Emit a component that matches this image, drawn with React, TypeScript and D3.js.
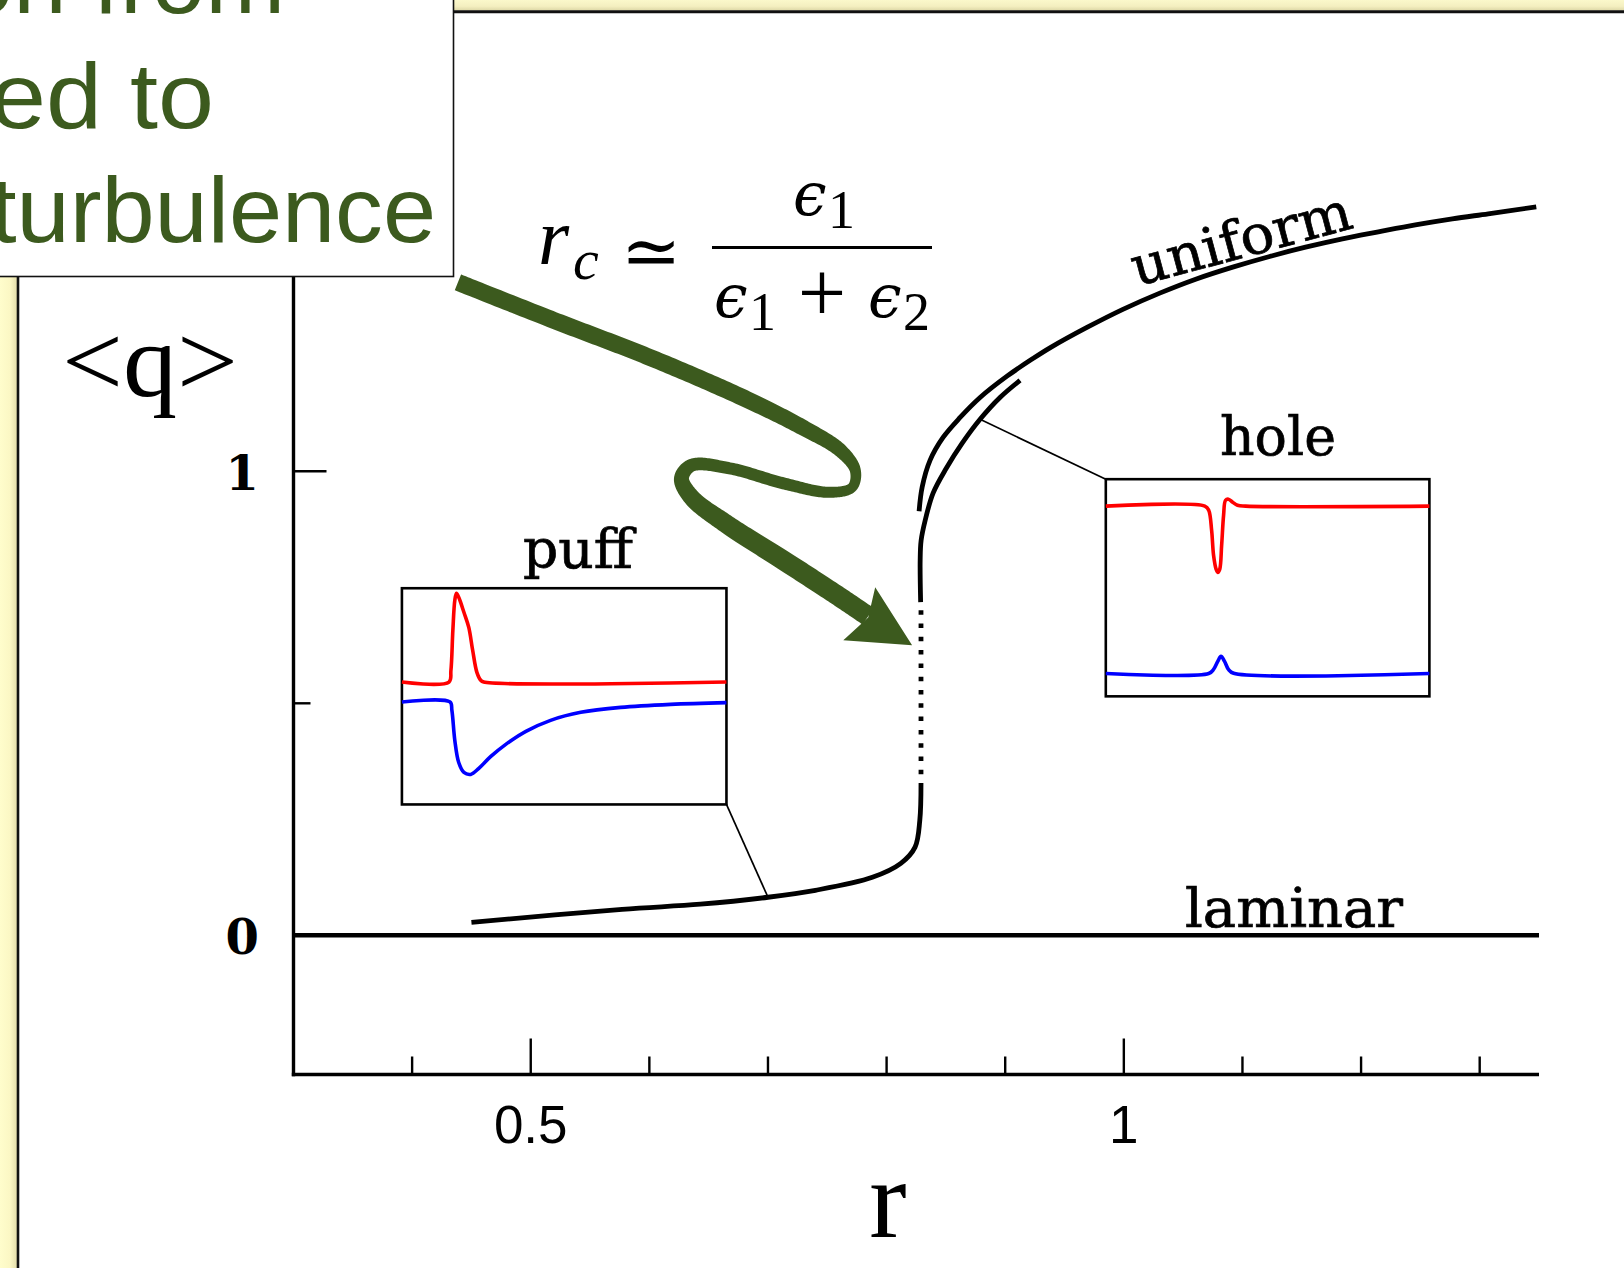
import React from 'react';
import * as d3 from 'd3';

const WIDTH = 1624;
const HEIGHT = 1268;

// ---- axes ----
const rDomain = [0.3, 1.35];
const qDomain = [-0.3, 1.75];
const rMajorTicks = [0.5, 1];
const rMinorTicks = [0.4, 0.6, 0.7, 0.8, 0.9, 1.1, 1.2, 1.3];
const rTickLabels = ['0.5', '1'];
const qMajorTicks = [1];
const qMinorTicks = [0.5];
const qTickLabels = [0, 1];

// ---- bifurcation diagram: mean turbulent fraction <q> against r ----
const uniformR = [0.8274, 0.830, 0.8367, 0.8476, 0.862, 0.8788, 0.9015, 0.9234, 0.9377, 0.9689, 0.9992, 1.0303, 1.0606, 1.0918, 1.1229, 1.1532, 1.1843, 1.2146, 1.2458, 1.2769, 1.3072, 1.3477];
const uniformQ = [0.914, 0.966, 1.024, 1.073, 1.116, 1.159, 1.205, 1.243, 1.266, 1.310, 1.349, 1.384, 1.414, 1.440, 1.463, 1.483, 1.501, 1.516, 1.531, 1.544, 1.555, 1.570];

const puffR = [0.450, 0.577, 0.643, 0.700, 0.740, 0.788, 0.812, 0.824, 0.828, 0.829];
const puffQ = [0.028, 0.056, 0.067, 0.082, 0.097, 0.125, 0.155, 0.190, 0.248, 0.328];

const unstableR = [0.829, 0.829];
const unstableQ = [0.328, 0.718];

const holeR = [0.8287, 0.8283, 0.8291, 0.8325, 0.8392, 0.8502, 0.8636, 0.8788, 0.8956, 0.9125];
const holeQ = [0.718, 0.808, 0.851, 0.894, 0.953, 1.006, 1.060, 1.112, 1.159, 1.196];

const laminarR = [0.3, 1.35];
const laminarQ = [0, 0];

// ---- inset profiles: position along the pipe (0–100), amplitude (0–1 of panel) ----
const puffRedX = [0, 14.5, 15.1, 15.7, 16.3, 16.8, 17.5, 19.1, 20.6, 21.8, 23.1, 24.3, 25.2, 100];
const puffRedY = [0.566, 0.566, 0.620, 0.806, 0.944, 0.977, 0.958, 0.889, 0.819, 0.713, 0.611, 0.574, 0.566, 0.566];
const puffBlueX = [0, 14.8, 15.4, 16.3, 17.5, 19.1, 21.2, 23.7, 27.4, 32.0, 38.2, 45.8, 55.1, 67.4, 82.8, 100];
const puffBlueY = [0.474, 0.474, 0.435, 0.296, 0.194, 0.148, 0.139, 0.167, 0.222, 0.278, 0.338, 0.389, 0.426, 0.449, 0.463, 0.471];

const holeRedX = [0, 30.6, 31.8, 32.7, 33.3, 34.1, 34.6, 35.2, 35.8, 36.4, 37.0, 37.9, 39.2, 40.7, 43.2, 100];
const holeRedY = [0.876, 0.876, 0.857, 0.765, 0.650, 0.585, 0.571, 0.585, 0.696, 0.834, 0.903, 0.908, 0.894, 0.880, 0.876, 0.876];
const holeBlueX = [0, 31.8, 33.3, 34.6, 35.6, 36.7, 37.9, 39.5, 100];
const holeBlueY = [0.105, 0.105, 0.124, 0.161, 0.184, 0.161, 0.124, 0.106, 0.105];

// ---- curly pointer towards r_c (in r, <q> units) ----
const arrowR = [0.4386, 0.5194, 0.6002, 0.6801, 0.7290, 0.7609, 0.7736, 0.7710, 0.7517, 0.7130, 0.6675, 0.6355, 0.6271, 0.6355, 0.6641, 0.7130, 0.7609, 0.7845];
const arrowQ = [1.4073, 1.3254, 1.2457, 1.1573, 1.0948, 1.0453, 1.0022, 0.9655, 0.9547, 0.9741, 1.0065, 1.0129, 0.9849, 0.9440, 0.8879, 0.8082, 0.7284, 0.6875];
const arrowHeadR = [0.8215, 0.7904, 0.7845, 0.7635];
const arrowHeadQ = [0.625, 0.750, 0.685, 0.636];

// ---- callout text ----
const calloutLines = ['on from', 'ed to', 'turbulence'];

// layout of the inset panels, in (r, <q>) units
const puffPanel = { r0: 0.3914, r1: 0.665, q0: 0.282, q1: 0.748 };
const holePanel = { r0: 0.9848, r1: 1.2576, q0: 0.515, q1: 0.983 };
const puffLeaderIndex = 3;
const holeLeaderIndex = 7;

const GREEN = '#3c5a1e';
const SERIF = "'DejaVu Serif', serif";
const TIMES = "'Liberation Serif', 'DejaVu Serif', serif";
const SANS = "'Liberation Sans', Arial, sans-serif";

const zip = (a: number[], b: number[]): [number, number][] => a.map((v, i) => [v, b[i]]);

// Build a filled ribbon of varying width around a Catmull-Rom centreline.
function ribbonPath(points: [number, number][], widths: number[]): string {
  const s: { x: number; y: number; w: number }[] = [];
  let seg = 0;
  const ctx: any = {
    moveTo(px: number, py: number) { s.push({ x: px, y: py, w: widths[0] }); },
    lineTo(px: number, py: number) { seg++; s.push({ x: px, y: py, w: widths[Math.min(seg, widths.length - 1)] }); },
    bezierCurveTo(x1: number, y1: number, x2: number, y2: number, px: number, py: number) {
      const p0 = s[s.length - 1];
      const w0 = widths[seg], w1 = widths[Math.min(seg + 1, widths.length - 1)];
      const n = 30;
      for (let i = 1; i <= n; i++) {
        const t = i / n, m = 1 - t;
        s.push({
          x: m * m * m * p0.x + 3 * m * m * t * x1 + 3 * m * t * t * x2 + t * t * t * px,
          y: m * m * m * p0.y + 3 * m * m * t * y1 + 3 * m * t * t * y2 + t * t * t * py,
          w: w0 + (w1 - w0) * t,
        });
      }
      seg++;
    },
    closePath() {},
  };
  d3.line().curve(d3.curveCatmullRom.alpha(0.5)).context(ctx)(points);
  const left: string[] = [];
  const right: string[] = [];
  for (let i = 0; i < s.length; i++) {
    const a = s[Math.max(0, i - 1)], b = s[Math.min(s.length - 1, i + 1)];
    let tx = b.x - a.x, ty = b.y - a.y;
    const len = Math.hypot(tx, ty) || 1;
    tx /= len; ty /= len;
    const nx = -ty, ny = tx, h = s[i].w / 2;
    left.push(`${(s[i].x + nx * h).toFixed(2)},${(s[i].y + ny * h).toFixed(2)}`);
    right.push(`${(s[i].x - nx * h).toFixed(2)},${(s[i].y - ny * h).toFixed(2)}`);
  }
  return `M${left.join('L')}L${right.reverse().join('L')}Z`;
}

export default function App() {
  const x = d3.scaleLinear().domain(rDomain).range([293.5, 1539]);
  const y = d3.scaleLinear().domain(qDomain).range([1074.5, 123.3]);

  const curve = d3
    .line<[number, number]>()
    .x((d) => x(d[0]))
    .y((d) => y(d[1]))
    .curve(d3.curveCatmullRom.alpha(0.5));

  const inset = (p: typeof puffPanel) => {
    const ix = d3.scaleLinear().domain([0, 100]).range([x(p.r0), x(p.r1)]);
    const iy = d3.scaleLinear().domain([0, 1]).range([y(p.q0), y(p.q1)]);
    const l = d3
      .line<[number, number]>()
      .x((d) => ix(d[0]))
      .y((d) => iy(d[1]))
      .curve(d3.curveCatmullRom.alpha(0.5));
    return { ix, iy, l };
  };
  const puffIn = inset(puffPanel);
  const holeIn = inset(holePanel);

  const arrowPts: [number, number][] = zip(arrowR, arrowQ).map(([r, q]) => [x(r), y(q)]);
  const arrowWidths = [17, 17, 17, 17, 16, 14, 11, 10, 11, 12, 12, 13, 15, 17, 19, 20, 20, 20];
  const ribbon = ribbonPath(arrowPts, arrowWidths);
  const head = zip(arrowHeadR, arrowHeadQ).map(([r, q]) => `${x(r)},${y(q)}`).join(' ');

  const xAxisY = y(qDomain[0]);
  const yAxisX = x(rDomain[0]);

  const puffLeader = [x(puffR[puffLeaderIndex]), y(puffQ[puffLeaderIndex])];
  const holeLeader = [x(holeR[holeLeaderIndex]), y(holeQ[holeLeaderIndex])];

  const labelStyle = { stroke: '#000', strokeWidth: 0.7 };

  return (
    <svg
      width={WIDTH}
      height={HEIGHT}
      viewBox={`0 0 ${WIDTH} ${HEIGHT}`}
      style={{ position: 'absolute', left: 0, top: 0, display: 'block', background: '#fff' }}
    >
      <defs>
        <linearGradient id="stripLeft" x1="0" x2="1" y1="0" y2="0">
          <stop offset="0" stopColor="#fffdcc" />
          <stop offset="0.6" stopColor="#fbf7c4" />
          <stop offset="1" stopColor="#e3ddab" />
        </linearGradient>
        <linearGradient id="stripTop" x1="0" x2="0" y1="0" y2="1">
          <stop offset="0" stopColor="#fbf8cb" />
          <stop offset="0.6" stopColor="#f4efc0" />
          <stop offset="1" stopColor="#ddd7a6" />
        </linearGradient>
      </defs>

      {/* slide frame */}
      <rect x={0} y={0} width={17} height={HEIGHT} fill="url(#stripLeft)" />
      <rect x={0} y={0} width={WIDTH} height={10.5} fill="url(#stripTop)" />
      <line x1={18} x2={18} y1={10} y2={HEIGHT} stroke="#111" strokeWidth={2.6} />
      <line x1={17} x2={WIDTH} y1={11.8} y2={11.8} stroke="#111" strokeWidth={3} />

      {/* axes */}
      <line x1={yAxisX} x2={yAxisX} y1={y(qDomain[1])} y2={xAxisY + 1.7} stroke="#000" strokeWidth={3.4} />
      <line x1={yAxisX - 1.7} x2={x(rDomain[1])} y1={xAxisY} y2={xAxisY} stroke="#000" strokeWidth={3.6} />
      {rMajorTicks.map((t) => (
        <line key={`xM${t}`} x1={x(t)} x2={x(t)} y1={xAxisY} y2={xAxisY - 36} stroke="#000" strokeWidth={2.4} />
      ))}
      {rMinorTicks.map((t) => (
        <line key={`xm${t}`} x1={x(t)} x2={x(t)} y1={xAxisY} y2={xAxisY - 18} stroke="#000" strokeWidth={2.4} />
      ))}
      {qMajorTicks.map((t) => (
        <line key={`yM${t}`} x1={yAxisX} x2={yAxisX + 33} y1={y(t)} y2={y(t)} stroke="#000" strokeWidth={2.6} />
      ))}
      {qMinorTicks.map((t) => (
        <line key={`ym${t}`} x1={yAxisX} x2={yAxisX + 17} y1={y(t)} y2={y(t)} stroke="#000" strokeWidth={2.4} />
      ))}
      {rMajorTicks.map((t, i) => (
        <text key={`xl${t}`} x={x(t)} y={1143} textAnchor="middle" fontFamily={SANS} fontSize={53} fill="#000">
          {rTickLabels[i]}
        </text>
      ))}
      {qTickLabels.map((t) => (
        <text key={`yl${t}`} x={259} y={y(t) + 19} textAnchor="end" fontFamily={SERIF} fontWeight="bold" fontSize={48} fill="#000">
          {t}
        </text>
      ))}
      <text x={62} y={396} fontFamily={TIMES} fontSize={104} textLength={176} lengthAdjust="spacingAndGlyphs" fill="#000">
        {'<q>'}
      </text>
      <text x={888} y={1237} textAnchor="middle" fontFamily={TIMES} fontSize={112} fill="#000">
        r
      </text>

      {/* branches */}
      <path d={curve(zip(laminarR, laminarQ)) || ''} fill="none" stroke="#000" strokeWidth={4.6} />
      <path d={curve(zip(uniformR, uniformQ)) || ''} fill="none" stroke="#000" strokeWidth={4.8} />
      <path d={curve(zip(puffR, puffQ)) || ''} fill="none" stroke="#000" strokeWidth={4.8} />
      <path d={curve(zip(holeR, holeQ)) || ''} fill="none" stroke="#000" strokeWidth={4.8} />
      <path
        d={curve(zip(unstableR, unstableQ)) || ''}
        fill="none"
        stroke="#000"
        strokeWidth={4.8}
        strokeDasharray="4.5 8.8"
        strokeDashoffset={-8.8}
      />

      {/* branch labels */}
      <text x={1185} y={927} fontFamily={SERIF} fontSize={54} textLength={218} lengthAdjust="spacingAndGlyphs" fill="#000" {...labelStyle}>
        laminar
      </text>
      <text
        x={0}
        y={0}
        transform="translate(1246 257) rotate(-15)"
        textAnchor="middle"
        fontFamily={SERIF}
        fontSize={54}
        textLength={226}
        lengthAdjust="spacingAndGlyphs"
        fill="#000"
        {...labelStyle}
      >
        uniform
      </text>

      {/* leaders to the insets */}
      <line x1={x(puffPanel.r1)} y1={y(puffPanel.q0)} x2={puffLeader[0]} y2={puffLeader[1]} stroke="#000" strokeWidth={1.7} />
      <line x1={holeLeader[0]} y1={holeLeader[1]} x2={x(holePanel.r0)} y2={y(holePanel.q1)} stroke="#000" strokeWidth={1.7} />

      {/* puff inset */}
      <rect
        x={x(puffPanel.r0)}
        y={y(puffPanel.q1)}
        width={x(puffPanel.r1) - x(puffPanel.r0)}
        height={y(puffPanel.q0) - y(puffPanel.q1)}
        fill="#fff"
        stroke="#000"
        strokeWidth={2.6}
      />
      <path d={puffIn.l(zip(puffRedX, puffRedY)) || ''} fill="none" stroke="#ff0000" strokeWidth={3.6} />
      <path d={puffIn.l(zip(puffBlueX, puffBlueY)) || ''} fill="none" stroke="#0000ff" strokeWidth={3.6} />
      <text x={578} y={568} textAnchor="middle" fontFamily={SERIF} fontSize={54} textLength={110} lengthAdjust="spacingAndGlyphs" fill="#000" {...labelStyle}>
        puff
      </text>

      {/* hole inset */}
      <rect
        x={x(holePanel.r0)}
        y={y(holePanel.q1)}
        width={x(holePanel.r1) - x(holePanel.r0)}
        height={y(holePanel.q0) - y(holePanel.q1)}
        fill="#fff"
        stroke="#000"
        strokeWidth={2.6}
      />
      <path d={holeIn.l(zip(holeRedX, holeRedY)) || ''} fill="none" stroke="#ff0000" strokeWidth={3.6} />
      <path d={holeIn.l(zip(holeBlueX, holeBlueY)) || ''} fill="none" stroke="#0000ff" strokeWidth={3.6} />
      <text x={1278} y={455} textAnchor="middle" fontFamily={SERIF} fontSize={54} textLength={116} lengthAdjust="spacingAndGlyphs" fill="#000" {...labelStyle}>
        hole
      </text>

      {/* threshold formula */}
      <g fill="#000">
        <text x={538} y={264} fontFamily={TIMES} fontStyle="italic" fontSize={80}>r</text>
        <text x={573} y={279} fontFamily={TIMES} fontStyle="italic" fontSize={58}>c</text>
        <text x={651} y={276} textAnchor="middle" fontFamily={SERIF} fontSize={72}>≃</text>
        <text x={793} y={215} fontFamily={SERIF} fontStyle="italic" fontSize={60}>ϵ</text>
        <text x={828} y={228} fontFamily={TIMES} fontSize={54}>1</text>
        <line x1={712} x2={932} y1={247.5} y2={247.5} stroke="#000" strokeWidth={3} />
        <text x={714} y={317} fontFamily={SERIF} fontStyle="italic" fontSize={60}>ϵ</text>
        <text x={749} y={330} fontFamily={TIMES} fontSize={54}>1</text>
        <text x={822} y={322} textAnchor="middle" fontFamily={TIMES} fontSize={86}>+</text>
        <text x={868} y={317} fontFamily={SERIF} fontStyle="italic" fontSize={60}>ϵ</text>
        <text x={903} y={330} fontFamily={TIMES} fontSize={54}>2</text>
      </g>

      {/* callout box */}
      <rect x={-4} y={-4} width={457.5} height={280.5} fill="#fff" stroke="#111" strokeWidth={1.6} />
      {calloutLines.map((t, i) => (
        <text
          key={t}
          x={[285, 214, 436][i]}
          y={[13, 128, 242][i]}
          textAnchor="end"
          fontFamily={SANS}
          fontSize={93}
          textLength={[325, 224, 446][i]}
          lengthAdjust="spacingAndGlyphs"
          fill={GREEN}
        >
          {t}
        </text>
      ))}

      {/* curly pointer */}
      <path d={ribbon} fill={GREEN} />
      <polygon points={head} fill={GREEN} />
    </svg>
  );
}
